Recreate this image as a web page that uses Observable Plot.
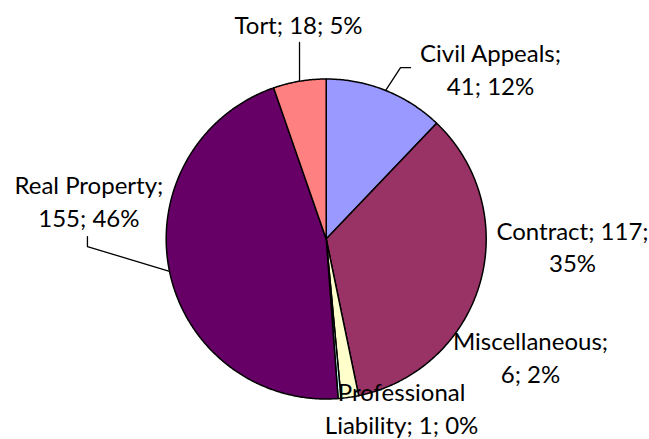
<!DOCTYPE html>
<html><head><meta charset="utf-8">
<script src="https://cdn.jsdelivr.net/npm/d3@7"></script>
<script src="https://cdn.jsdelivr.net/npm/@observablehq/plot@0.6"></script>
<style>html,body{margin:0;padding:0;background:#fff;}</style>
</head><body><div id="chart"></div>
<script>
// ---- data ----
const categories = ["Civil Appeals", "Contract", "Miscellaneous", "Professional Liability", "Real Property", "Tort"];
const counts = [41, 117, 6, 1, 155, 18];
const colors = ["#9999FF", "#993366", "#FFFFCC", "#CCFFFF", "#660066", "#FF8080"];

// ---- layout (pie radius units, angles clockwise from 12 o'clock) ----
const W = 649, H = 439, CX = 325.7, CY = 238.5, R = 160;
const labelLayout = [
  {angle: 43.8, r: 1.484, br: "Civil Appeals;", elbow: [-0.5625, 0], end: [-0.5, 0]},
  {angle: 91.5, r: 1.540, br: "Contract; 117;"},
  {angle: 119.7, r: 1.470, br: "Miscellaneous;"},
  {angle: 155.84, r: 1.151, br: "Professional"},
  {angle: 279.3, r: 1.503, br: "Real Property;", elbow: [-0.009, -0.29], end: [-0.009, -0.2275]},
  {angle: 352.7, r: 1.360, br: null, elbow: null, end: [0.006, -0.121]}
];

const total = d3.sum(counts);
const rows = categories.map((name, i) => ({name, value: counts[i]}));
const arcs = d3.pie().sort(null).value(d => d.value)(rows);

// slice outlines (center -> arc -> center)
const slicePts = [];
arcs.forEach(a => {
  const name = a.data.name;
  slicePts.push({name, u: 0, v: 0});
  const n = Math.max(2, Math.ceil((a.endAngle - a.startAngle) / (Math.PI / 360)));
  for (let k = 0; k <= n; k++) {
    const t = a.startAngle + (a.endAngle - a.startAngle) * k / n;
    slicePts.push({name, u: Math.sin(t), v: Math.cos(t)});
  }
  slicePts.push({name, u: 0, v: 0});
});

// labels
const labels = arcs.map((a, i) => {
  const L = labelLayout[i];
  const th = L.angle * Math.PI / 180;
  const pct = Math.round(a.data.value / total * 100);
  let txt = `${a.data.name}; ${a.data.value}; ${pct}%`;
  if (L.br) txt = txt.replace(L.br + " ", L.br + "\n");
  return {name: a.data.name, u: L.r * Math.sin(th), v: L.r * Math.cos(th), text: txt, mid: (a.startAngle + a.endAngle) / 2, L};
});

// leader lines
const leaderPts = [];
labels.forEach(l => {
  if (!l.L.end) return;
  leaderPts.push({name: l.name, u: Math.sin(l.mid), v: Math.cos(l.mid)});
  if (l.L.elbow) leaderPts.push({name: l.name, u: l.u + l.L.elbow[0], v: l.v + l.L.elbow[1]});
  leaderPts.push({name: l.name, u: l.u + l.L.end[0], v: l.v + l.L.end[1]});
});

const chart = Plot.plot({
  width: W, height: H, margin: 0,
  x: {domain: [-CX / R, (W - CX) / R], axis: null},
  y: {domain: [(CY - H) / R, CY / R], axis: null},
  color: {domain: categories, range: colors},
  style: {background: "white", fontFamily: "Lato"},
  marks: [
    Plot.line(slicePts, {x: "u", y: "v", z: "name", fill: "name", stroke: "black", strokeWidth: 1.5, strokeLinejoin: "round"}),
    Plot.line(leaderPts, {x: "u", y: "v", z: "name", stroke: "black", strokeWidth: 1.3}),
    Plot.text(labels, {x: "u", y: "v", text: "text", fontSize: 24, lineHeight: 1.375, fontFamily: "Lato", fill: "black", textAnchor: "middle"})
  ]
});
document.getElementById("chart").appendChild(chart);
</script>
</body></html>
